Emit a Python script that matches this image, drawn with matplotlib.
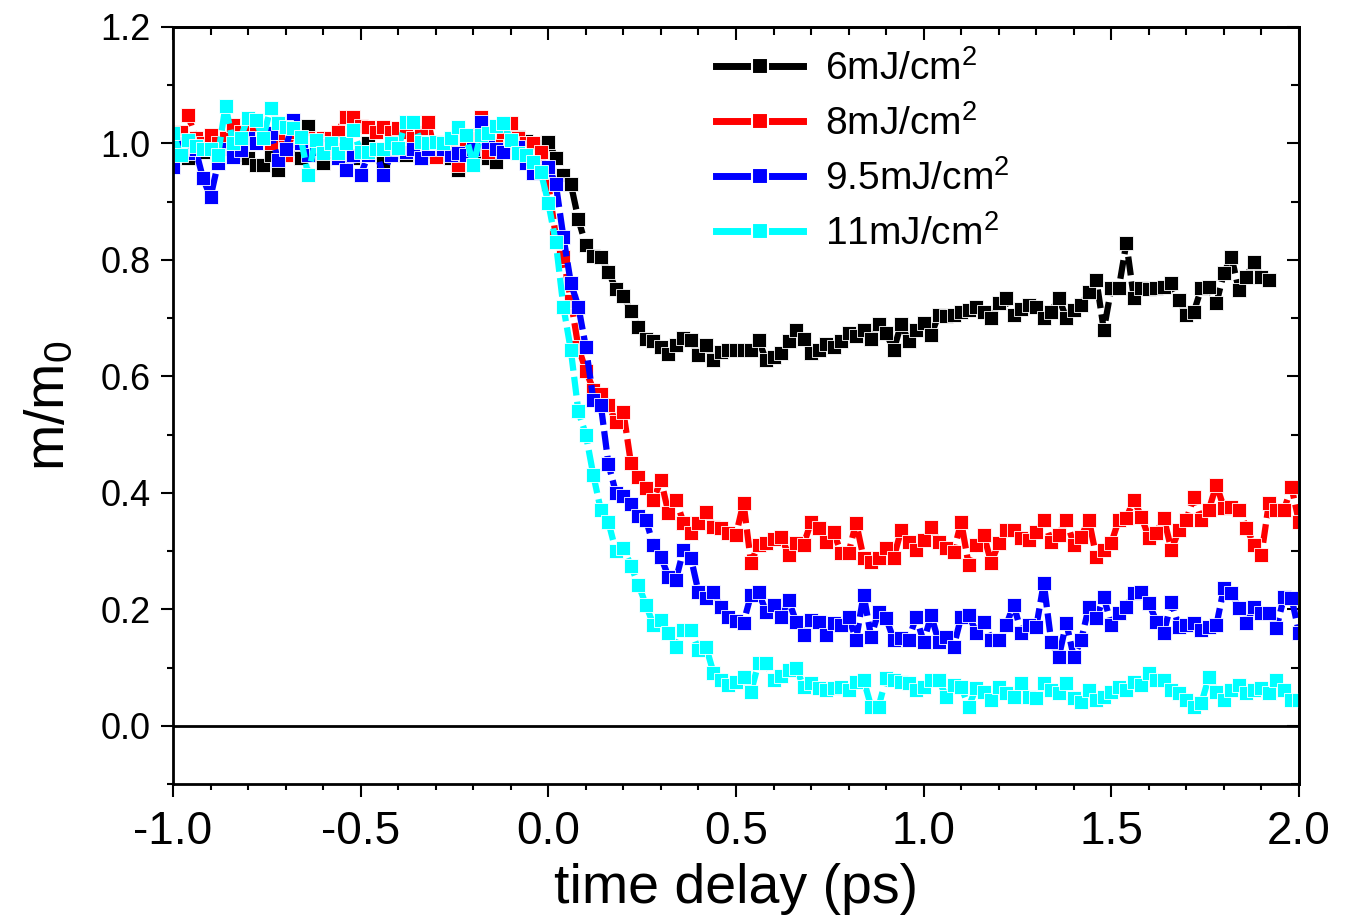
import numpy as np
import matplotlib
matplotlib.use("Agg")
import matplotlib.pyplot as plt
from matplotlib.ticker import MultipleLocator, FormatStrFormatter
from matplotlib.lines import Line2D

plt.rcParams['font.family'] = ['Liberation Sans', 'DejaVu Sans']
plt.rcParams['mathtext.fontset'] = 'custom'
plt.rcParams['mathtext.rm'] = 'Liberation Sans'
plt.rcParams['mathtext.it'] = 'Liberation Sans'
plt.rcParams['mathtext.default'] = 'regular'
plt.rcParams['axes.unicode_minus'] = False

# time delay grid (ps), 0.02 ps steps
delay = np.round(np.arange(-1.0, 2.0001, 0.02), 2)

labels = ['6mJ/cm$^2$', '8mJ/cm$^2$', '9.5mJ/cm$^2$', '11mJ/cm$^2$']
colors = ['#000000', '#ff0000', '#0000ff', '#00ffff']

m_6 = [
    0.98, 0.99, 0.975, 1.0, 0.985, 0.99, 0.98, 0.995, 0.99, 0.98,
    0.975, 0.963, 0.963, 0.98, 0.955, 0.985, 0.99, 0.975, 1.03, 0.98,
    0.966, 0.985, 0.99, 0.98, 0.975, 0.99, 1.0, 0.985, 0.97, 0.99,
    0.985, 0.98, 0.995, 0.975, 0.985, 0.99, 0.98, 0.975, 0.955, 0.98,
    0.99, 0.985, 0.975, 0.968, 0.99, 1.0, 1.011, 1.005, 1.0, 0.995,
    1.003, 0.975, 0.945, 0.93, 0.87, 0.825, 0.807, 0.805, 0.78, 0.75,
    0.738, 0.712, 0.685, 0.665, 0.66, 0.65, 0.638, 0.654, 0.666, 0.663,
    0.637, 0.654, 0.628, 0.642, 0.645, 0.645, 0.645, 0.645, 0.663, 0.628,
    0.633, 0.64, 0.66, 0.68, 0.665, 0.64, 0.645, 0.655, 0.65, 0.66,
    0.675, 0.67, 0.68, 0.665, 0.69, 0.675, 0.645, 0.69, 0.66, 0.68,
    0.692, 0.671, 0.706, 0.704, 0.706, 0.71, 0.714, 0.719, 0.71, 0.70,
    0.726, 0.735, 0.706, 0.715, 0.723, 0.72, 0.70, 0.711, 0.735, 0.70,
    0.714, 0.723, 0.745, 0.766, 0.68, 0.752, 0.752, 0.829, 0.735, 0.752,
    0.75, 0.752, 0.754, 0.76, 0.731, 0.706, 0.711, 0.752, 0.754, 0.726,
    0.778, 0.805, 0.748, 0.771, 0.797, 0.77, 0.766,
]

m_8 = [
    1.0, 1.02, 1.049, 1.01, 1.0, 1.015, 1.0, 1.01, 1.032, 1.02,
    1.023, 1.02, 1.01, 1.0, 1.018, 0.98, 1.02, 1.0, 1.01, 1.0,
    1.01, 1.01, 1.02, 1.046, 1.046, 1.03, 1.028, 1.02, 1.028, 1.02,
    1.026, 1.02, 1.01, 1.02, 1.037, 0.977, 1.0, 1.0, 0.963, 1.0,
    1.01, 1.046, 0.985, 1.0, 1.02, 1.035, 1.01, 1.0, 1.0, 0.985,
    0.93, 0.84, 0.805, 0.73, 0.65, 0.61, 0.577, 0.57, 0.551, 0.522,
    0.539, 0.451, 0.427, 0.409, 0.388, 0.422, 0.366, 0.388, 0.349, 0.331,
    0.349, 0.367, 0.342, 0.34, 0.331, 0.328, 0.383, 0.28, 0.311, 0.314,
    0.32, 0.325, 0.294, 0.314, 0.311, 0.35, 0.34, 0.316, 0.333, 0.297,
    0.297, 0.349, 0.288, 0.282, 0.288, 0.306, 0.288, 0.336, 0.316, 0.302,
    0.319, 0.342, 0.316, 0.306, 0.299, 0.35, 0.276, 0.311, 0.328, 0.28,
    0.314, 0.336, 0.336, 0.323, 0.319, 0.333, 0.354, 0.316, 0.328, 0.354,
    0.311, 0.325, 0.354, 0.29, 0.302, 0.314, 0.354, 0.357, 0.388, 0.359,
    0.323, 0.331, 0.357, 0.302, 0.336, 0.354, 0.393, 0.354, 0.371, 0.414,
    0.374, 0.376, 0.371, 0.34, 0.311, 0.294, 0.383, 0.371, 0.371, 0.41,
    0.35,
]

m_95 = [
    0.96, 1.0, 0.984, 0.99, 0.94, 0.908, 0.966, 0.99, 0.977, 0.989,
    1.009, 1.0, 1.01, 1.018, 0.972, 0.99, 1.04, 1.0, 0.98, 0.99,
    0.997, 0.99, 0.975, 0.955, 0.98, 0.946, 0.98, 0.99, 0.946, 0.98,
    0.99, 0.985, 0.99, 0.975, 0.99, 1.0, 0.99, 0.98, 0.984, 0.98,
    0.99, 1.037, 1.003, 0.99, 0.985, 1.006, 0.994, 0.966, 0.949, 0.954,
    0.96, 0.93, 0.84, 0.76, 0.72, 0.65, 0.56, 0.55, 0.45, 0.40,
    0.395, 0.38, 0.36, 0.354, 0.31, 0.29, 0.256, 0.251, 0.302, 0.288,
    0.23, 0.22, 0.23, 0.204, 0.187, 0.18, 0.177, 0.225, 0.23, 0.196,
    0.208, 0.187, 0.216, 0.179, 0.156, 0.182, 0.179, 0.156, 0.177, 0.173,
    0.187, 0.148, 0.225, 0.153, 0.196, 0.185, 0.148, 0.15, 0.148, 0.187,
    0.144, 0.19, 0.144, 0.153, 0.136, 0.187, 0.191, 0.16, 0.179, 0.148,
    0.148, 0.173, 0.208, 0.16, 0.173, 0.17, 0.245, 0.144, 0.118, 0.177,
    0.118, 0.148, 0.204, 0.185, 0.221, 0.173, 0.194, 0.204, 0.228, 0.23,
    0.211, 0.179, 0.16, 0.213, 0.17, 0.173, 0.177, 0.165, 0.17, 0.173,
    0.237, 0.228, 0.203, 0.177, 0.204, 0.194, 0.194, 0.168, 0.221, 0.22,
    0.16,
]

m_11 = [
    1.018, 0.98, 1.006, 0.995, 0.99, 0.99, 0.98, 1.065, 1.0, 1.01,
    1.044, 1.04, 1.009, 1.061, 1.035, 1.028, 1.026, 1.011, 0.946, 1.006,
    0.984, 1.0, 0.984, 1.0, 1.023, 0.985, 0.985, 0.99, 0.99, 1.0,
    0.992, 1.037, 1.037, 1.003, 1.0, 1.003, 1.0, 1.01, 1.028, 1.015,
    0.963, 1.015, 1.018, 1.03, 1.035, 1.006, 0.984, 0.98, 0.968, 0.951,
    0.898, 0.83, 0.72, 0.645, 0.54, 0.50, 0.43, 0.37, 0.35, 0.30,
    0.306, 0.275, 0.242, 0.208, 0.173, 0.182, 0.16, 0.136, 0.165, 0.165,
    0.13, 0.136, 0.091, 0.079, 0.07, 0.075, 0.084, 0.058, 0.108, 0.108,
    0.079, 0.085, 0.096, 0.10, 0.067, 0.074, 0.065, 0.062, 0.065, 0.067,
    0.062, 0.076, 0.079, 0.033, 0.033, 0.082, 0.079, 0.076, 0.074, 0.062,
    0.067, 0.079, 0.079, 0.05, 0.07, 0.067, 0.033, 0.065, 0.058, 0.045,
    0.067, 0.057, 0.05, 0.074, 0.05, 0.048, 0.074, 0.062, 0.057, 0.074,
    0.048, 0.041, 0.062, 0.045, 0.05, 0.058, 0.067, 0.062, 0.076, 0.07,
    0.091, 0.079, 0.079, 0.062, 0.057, 0.045, 0.033, 0.039, 0.084, 0.058,
    0.045, 0.062, 0.07, 0.057, 0.062, 0.065, 0.057, 0.079, 0.062, 0.045,
    0.045,
]

series = [m_6, m_8, m_95, m_11]

fig = plt.figure(figsize=(13.6, 9.16), dpi=100)
ax = fig.add_axes([173 / 1360, 1 - 784 / 916, (1299 - 173) / 1360, (784 - 27) / 916])

ax.axhline(0, color='black', lw=2, zorder=1)

for vals, c in zip(series, colors):
    ax.plot(delay[:len(vals)], vals, color=c, lw=4.5, ls=(0, (3, 1)),
            marker='s', ms=10.5, mec='white', mew=0.6, zorder=2)

ax.set_xlim(-1.0, 2.0)
ax.set_ylim(-0.1, 1.2)
ax.xaxis.set_major_locator(MultipleLocator(0.5))
ax.xaxis.set_minor_locator(MultipleLocator(0.1))
ax.yaxis.set_major_locator(MultipleLocator(0.2))
ax.yaxis.set_minor_locator(MultipleLocator(0.1))
ax.xaxis.set_major_formatter(FormatStrFormatter('%.1f'))
ax.yaxis.set_major_formatter(FormatStrFormatter('%.1f'))

ax.tick_params(which='major', direction='out', length=9, width=1.5)
ax.tick_params(which='minor', direction='out', length=4.5, width=1.5)
ax.tick_params(axis='x', labelsize=33, pad=10)
ax.tick_params(axis='y', labelsize=26, pad=7)

for sp in ax.spines.values():
    sp.set_linewidth(2)

secx = ax.secondary_xaxis('top')
secx.xaxis.set_major_locator(MultipleLocator(0.5))
secx.xaxis.set_minor_locator(MultipleLocator(0.1))
secx.tick_params(which='major', direction='in', length=9, width=1.5, labeltop=False)
secx.tick_params(which='minor', direction='in', length=6, width=1.5)
secx.spines['top'].set_linewidth(2)

secy = ax.secondary_yaxis('right')
secy.yaxis.set_major_locator(MultipleLocator(0.2))
secy.yaxis.set_minor_locator(MultipleLocator(0.1))
secy.tick_params(which='major', direction='in', length=9, width=1.5, labelright=False)
secy.tick_params(which='minor', direction='in', length=6, width=1.5)
secy.spines['right'].set_linewidth(2)

ax.set_xlabel('time delay (ps)', fontsize=40, labelpad=6)
ax.set_ylabel('m/m$_0$', fontsize=40, labelpad=17)

handles = [Line2D([0], [0], color=c, lw=5, ls='-', marker='s', ms=11,
                  mec='white', mew=1.5) for c in colors]
fig.legend(handles, labels, loc='upper left',
           bbox_to_anchor=(716 / 1360, 1 - 50 / 916), frameon=False,
           fontsize=28, handlelength=2.24, handletextpad=0.57,
           labelspacing=0.44, borderpad=0, borderaxespad=0, numpoints=1)

fig.savefig('out.png', dpi=100)
